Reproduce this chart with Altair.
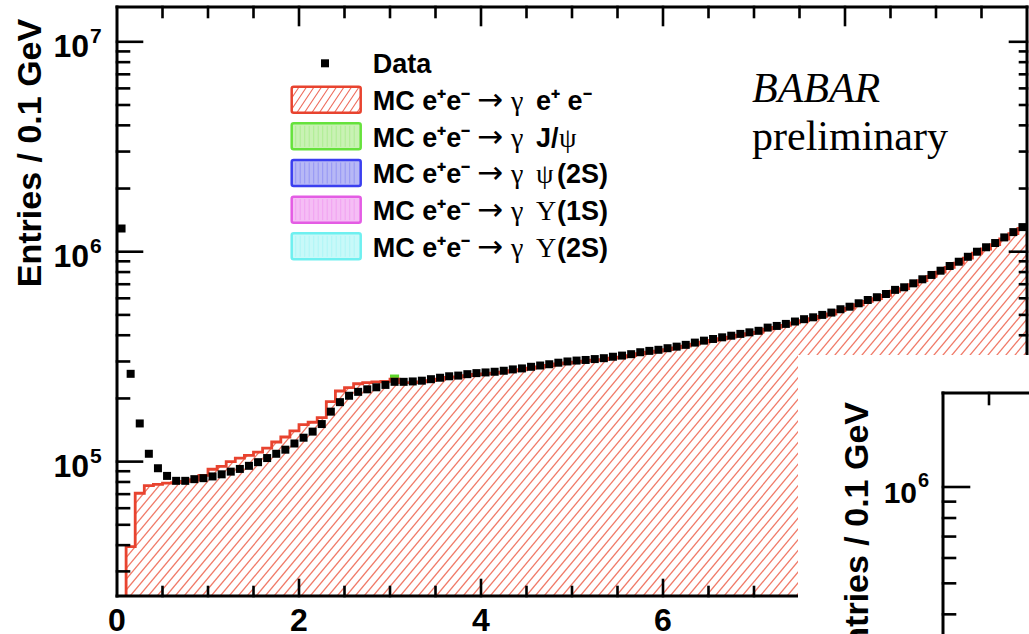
import altair as alt
import numpy as np
import pandas as pd

# ---------------- data ----------------
bin_left = [round(0.1 * i, 1) for i in range(100)]   # 0.1 GeV bins, 0..10 GeV

data_counts = [
    1.29e6, 2.62e5, 1.52e5, 1.09e5, 9.3e4, 8.55e4, 8.1e4, 8.1e4, 8.25e4, 8.34e4,
    8.5e4, 8.7e4, 8.96e4, 9.23e4, 9.55e4, 9.94e4, 1.04e5, 1.09e5, 1.14e5, 1.22e5,
    1.30e5, 1.39e5, 1.51e5, 1.73e5, 1.92e5, 2.06e5, 2.15e5, 2.21e5, 2.26e5, 2.32e5,
    2.40e5, 2.40e5, 2.41e5, 2.43e5, 2.47e5, 2.51e5, 2.55e5, 2.57e5, 2.61e5, 2.64e5,
    2.66e5, 2.68e5, 2.71e5, 2.75e5, 2.78e5, 2.83e5, 2.87e5, 2.91e5, 2.96e5, 3.00e5,
    3.03e5, 3.05e5, 3.08e5, 3.11e5, 3.16e5, 3.20e5, 3.25e5, 3.32e5, 3.37e5, 3.41e5,
    3.47e5, 3.53e5, 3.60e5, 3.69e5, 3.77e5, 3.84e5, 3.91e5, 3.98e5, 4.06e5, 4.13e5,
    4.20e5, 4.35e5, 4.43e5, 4.53e5, 4.65e5, 4.77e5, 4.87e5, 5.00e5, 5.13e5, 5.32e5,
    5.47e5, 5.68e5, 5.89e5, 6.07e5, 6.29e5, 6.58e5, 6.77e5, 7.07e5, 7.39e5, 7.75e5,
    8.12e5, 8.55e5, 8.96e5, 9.46e5, 1.00e6, 1.05e6, 1.10e6, 1.17e6, 1.24e6, 1.31e6,
]

mc_counts = [
    1.0e4, 3.94e4, 7.07e4, 7.69e4, 7.80e4, 7.90e4, 7.95e4, 8.05e4, 8.20e4, 8.60e4,
    9.20e4, 9.50e4, 1.00e5, 1.04e5, 1.07e5, 1.11e5, 1.16e5, 1.24e5, 1.31e5, 1.40e5,
    1.50e5, 1.54e5, 1.62e5, 1.93e5, 2.17e5, 2.25e5, 2.35e5, 2.38e5, 2.40e5, 2.41e5,
    2.47e5, 2.38e5, 2.38e5, 2.40e5, 2.43e5, 2.47e5, 2.52e5, 2.53e5, 2.57e5, 2.60e5,
    2.62e5, 2.64e5, 2.67e5, 2.71e5, 2.74e5, 2.79e5, 2.83e5, 2.87e5, 2.92e5, 2.95e5,
    2.98e5, 3.01e5, 3.04e5, 3.06e5, 3.11e5, 3.15e5, 3.20e5, 3.27e5, 3.32e5, 3.36e5,
    3.42e5, 3.48e5, 3.55e5, 3.63e5, 3.71e5, 3.78e5, 3.85e5, 3.92e5, 4.00e5, 4.07e5,
    4.14e5, 4.28e5, 4.36e5, 4.46e5, 4.58e5, 4.70e5, 4.80e5, 4.92e5, 5.05e5, 5.24e5,
    5.39e5, 5.59e5, 5.80e5, 5.98e5, 6.20e5, 6.48e5, 6.67e5, 6.96e5, 7.28e5, 7.63e5,
    8.00e5, 8.42e5, 8.83e5, 9.32e5, 9.85e5, 1.03e6, 1.08e6, 1.15e6, 1.22e6, 1.29e6,
]

jpsi_bin = [3.0, 3.1]
jpsi_top = 2.60e5

y_major = [1e5, 1e6, 1e7]
y_major_exp = ["5", "6", "7"]
x_label_values = [0, 2, 4, 6, 8]
y_title = "Entries / 0.1 GeV"

legend_names = ["MC e⁺e⁻ → γ e⁺ e⁻", "MC e⁺e⁻ → γ J/ψ", "MC e⁺e⁻ → γ ψ(2S)",
                "MC e⁺e⁻ → γ Υ(1S)", "MC e⁺e⁻ → γ Υ(2S)"]
legend_stroke = ["#e8432f", "#66e23c", "#3b3ff0", "#e45ce4", "#6ef0f0"]
legend_fill = ["white", "#c9f2b4", "#b7b8f6", "#f5bdf5", "#c8f9f9"]

# ---------------- layout ----------------
PLOT_W, PLOT_H = 910, 589
LEFT, TOP = 117, 7
RIGHT, BOTTOM = LEFT + PLOT_W, TOP + PLOT_H
X_DOMAIN = [0.0, 10.0]
Y_DOMAIN = [2.29e4, 1.465e7]
L0, L1 = np.log10(Y_DOMAIN[0]), np.log10(Y_DOMAIN[1])

SANS = "Liberation Sans"
SERIF = "Liberation Serif"
RED = "#e8432f"
HATCH = "#f07a68"


def px_to_x(px):
    return float(X_DOMAIN[0] + (px - LEFT) / PLOT_W * (X_DOMAIN[1] - X_DOMAIN[0]))


def py_to_y(py):
    return float(10 ** (L1 - (py - TOP) / PLOT_H * (L1 - L0)))


def x_to_px(x):
    return LEFT + (x - X_DOMAIN[0]) / (X_DOMAIN[1] - X_DOMAIN[0]) * PLOT_W


def y_to_py(v):
    return TOP + (L1 - np.log10(v)) / (L1 - L0) * PLOT_H


xs = alt.Scale(domain=X_DOMAIN, nice=False, zero=False)
ys = alt.Scale(type="log", domain=Y_DOMAIN, nice=False)


def XY(x="x", y="y", x2=None, y2=None):
    e = dict(x=alt.X(f"{x}:Q", scale=xs, axis=None),
             y=alt.Y(f"{y}:Q", scale=ys, axis=None))
    if x2:
        e["x2"] = alt.X2(f"{x2}:Q")
    if y2:
        e["y2"] = alt.Y2(f"{y2}:Q")
    return e


def seg(rows, px0, py0, px1, py1, w):
    rows.append(dict(x=px_to_x(px0), y=py_to_y(py0), x2=px_to_x(px1), y2=py_to_y(py1), w=w))


# ---------------- histogram frames ----------------
step_df = pd.DataFrame({
    "x": bin_left + [X_DOMAIN[1]],
    "mc": mc_counts + [mc_counts[-1]],
})
step_df["top"] = Y_DOMAIN[1] * 2
pts_df = pd.DataFrame({"x": [b + 0.05 for b in bin_left], "y": data_counts})

# hatch lines (///) across the plot; the part above the MC histogram is covered in white
SLOPE, DX = 1.2, 9.0
run = PLOT_H / SLOPE
hatch_rows = []
xb = LEFT - run
while xb < RIGHT + 2:
    hatch_rows.append(dict(x=px_to_x(xb), y=Y_DOMAIN[0], x2=px_to_x(xb + run), y2=Y_DOMAIN[1]))
    xb += DX
hatch_df = pd.DataFrame(hatch_rows)

layers = []
layers.append(alt.Chart(hatch_df).mark_rule(color=HATCH, strokeWidth=1.3, clip=True)
              .encode(**XY("x", "y", "x2", "y2")))
layers.append(alt.Chart(step_df).mark_area(interpolate="step-after", color="white", opacity=1, clip=True)
              .encode(**XY("x", "mc", None, "top")))
jp_df = pd.DataFrame({"x": [jpsi_bin[0]], "x2": [jpsi_bin[1]],
                      "y": [mc_counts[30]], "y2": [jpsi_top]})
layers.append(alt.Chart(jp_df).mark_rect(color="#5cd62a").encode(**XY("x", "y", "x2", "y2")))
layers.append(alt.Chart(step_df).mark_line(interpolate="step-after", color=RED, strokeWidth=2.8, clip=True)
              .encode(**XY("x", "mc")))
layers.append(alt.Chart(pts_df).mark_square(size=64, color="black", opacity=1)
              .encode(**XY("x", "y")))

# ---------------- frame and inward ticks ----------------
fr = []
seg(fr, LEFT, TOP, LEFT, BOTTOM, 3)
seg(fr, RIGHT, TOP, RIGHT, BOTTOM, 3)
seg(fr, LEFT, TOP, RIGHT, TOP, 3)
seg(fr, LEFT, BOTTOM, RIGHT, BOTTOM, 3)
for d in [4, 5, 6, 7]:
    for m in range(1, 10):
        v = m * 10 ** d
        if not (Y_DOMAIN[0] < v < Y_DOMAIN[1]):
            continue
        py = y_to_py(v)
        if m == 1:
            seg(fr, LEFT, py, LEFT + 25, py, 2.6)
            seg(fr, RIGHT - 17, py, RIGHT, py, 2.6)
        else:
            seg(fr, LEFT, py, LEFT + 12, py, 2.6)
            seg(fr, RIGHT - 7, py, RIGHT, py, 2.6)
for k in range(1, 20):
    px = x_to_px(0.5 * k)
    major = (k % 4 == 0)
    seg(fr, px, BOTTOM, px, BOTTOM - (16 if major else 9), 2.6)
    seg(fr, px, TOP, px, TOP + (18 if major else 10), 2.6)
fr_df = pd.DataFrame(fr)
layers.append(alt.Chart(fr_df).mark_rule(color="black", strokeCap="square")
              .encode(**XY("x", "y", "x2", "y2"),
                      strokeWidth=alt.StrokeWidth("w:Q", scale=None, legend=None)))

# ---------------- axis labels ----------------
yl_df = pd.DataFrame({"v": y_major, "t": ["10"] * 3, "s": y_major_exp})
layers.append(alt.Chart(yl_df).mark_text(font=SANS, fontWeight="bold", fontSize=32, align="right",
                                          baseline="alphabetic", dy=15, color="black")
              .encode(x=alt.value(89 - LEFT), y=alt.Y("v:Q", scale=ys, axis=None), text="t:N"))
layers.append(alt.Chart(yl_df).mark_text(font=SANS, fontWeight="bold", fontSize=21, align="left",
                                          baseline="alphabetic", dy=1, color="black")
              .encode(x=alt.value(90 - LEFT), y=alt.Y("v:Q", scale=ys, axis=None), text="s:N"))
xl_df = pd.DataFrame({"x": x_label_values, "t": [str(v) for v in x_label_values]})
layers.append(alt.Chart(xl_df).mark_text(font=SANS, fontWeight="bold", fontSize=32, align="center",
                                          baseline="alphabetic", color="black")
              .encode(x=alt.X("x:Q", scale=xs, axis=None), y=alt.value(631 - TOP), text="t:N"))
yt_df = pd.DataFrame({"t": [y_title]})
layers.append(alt.Chart(yt_df).mark_text(font=SANS, fontWeight="bold", fontSize=34, angle=270,
                                          align="center", baseline="alphabetic", color="black")
              .encode(x=alt.value(41 - LEFT), y=alt.value(153 - TOP), text="t:N"))

# ---------------- legend ----------------
SW_X0, SW_X1 = 291.7, 360.7
ROW0_TOP, ROW_STEP, SW_H = 86.7, 36.65, 26
TXT_X = 372.7
sw_rows, sw_hatch = [], []
for i in range(5):
    t = ROW0_TOP + i * ROW_STEP
    sw_rows.append(dict(x=px_to_x(SW_X0), x2=px_to_x(SW_X1), y=py_to_y(t), y2=py_to_y(t + SW_H),
                        f=legend_fill[i], s=legend_stroke[i]))
# hatch inside the red swatch
t0, t1 = ROW0_TOP, ROW0_TOP + SW_H
xb = SW_X0 - SW_H / 1.5
while xb < SW_X1:
    s = 1.5
    ya = max(t0, t1 - s * (SW_X1 - xb))
    yb = min(t1, t1 - s * (SW_X0 - xb))
    if ya < yb:
        xa_ = xb + (t1 - ya) / s
        xb_ = xb + (t1 - yb) / s
        sw_hatch.append(dict(x=px_to_x(xb_), y=py_to_y(yb), x2=px_to_x(xa_), y2=py_to_y(ya)))
    xb += 7.5
sw_df = pd.DataFrame(sw_rows)
layers.append(alt.Chart(sw_df).mark_rect(strokeWidth=2.5, cornerRadius=2)
              .encode(**XY("x", "y", "x2", "y2"),
                      fill=alt.Fill("f:N", scale=None, legend=None),
                      stroke=alt.Stroke("s:N", scale=None, legend=None)))
# faint vertical texture in the coloured swatches
tex = []
for i in range(1, 5):
    t = ROW0_TOP + i * ROW_STEP
    px = SW_X0 + 4
    while px < SW_X1 - 2:
        tex.append(dict(x=px_to_x(px), y=py_to_y(t + 2.5), x2=px_to_x(px), y2=py_to_y(t + SW_H - 2.5),
                        c=legend_stroke[i]))
        px += 4.5
layers.append(alt.Chart(pd.DataFrame(tex)).mark_rule(strokeWidth=0.8, opacity=0.35)
              .encode(**XY("x", "y", "x2", "y2"), color=alt.Color("c:N", scale=None, legend=None)))
layers.append(alt.Chart(pd.DataFrame(sw_hatch)).mark_rule(color=RED, strokeWidth=1.1, opacity=0.8)
              .encode(**XY("x", "y", "x2", "y2")))
layers.append(alt.Chart(pd.DataFrame({"x": [px_to_x(325)], "y": [py_to_y(63.3)]}))
              .mark_square(size=64, color="black", opacity=1).encode(**XY("x", "y")))

base_lines = [73] + [ROW0_TOP + i * ROW_STEP + 23.3 for i in range(5)]
sans_pieces = [("Data", TXT_X, base_lines[0])]
serif_pieces = []
arrow_pieces = []
suffix_sans = ["e⁺ e⁻", "J/", "(2S)", "(1S)", "(2S)"]
suffix_sans_x = [536, 536, 557, 557, 557]
suffix_serif = ["", "ψ", "ψ", "Υ", "Υ"]
suffix_serif_x = [0, 559, 536, 536, 536]
for i in range(5):
    b = base_lines[i + 1]
    sans_pieces.append(("MC e⁺e⁻", TXT_X, b))
    arrow_pieces.append(("→", 477, b))
    serif_pieces.append(("γ", 511, b))
    sans_pieces.append((suffix_sans[i], suffix_sans_x[i], b))
    if suffix_serif[i]:
        serif_pieces.append((suffix_serif[i], suffix_serif_x[i], b))
sp_df = pd.DataFrame([dict(t=t, x=px_to_x(x), y=py_to_y(y)) for t, x, y in sans_pieces])
se_df = pd.DataFrame([dict(t=t, x=px_to_x(x), y=py_to_y(y)) for t, x, y in serif_pieces])
ar_df = pd.DataFrame([dict(t=t, x=px_to_x(x), y=py_to_y(y)) for t, x, y in arrow_pieces])
layers.append(alt.Chart(sp_df).mark_text(font=SANS, fontWeight="bold", fontSize=27, align="left",
                                          baseline="alphabetic", color="black")
              .encode(**XY("x", "y"), text="t:N"))
layers.append(alt.Chart(se_df).mark_text(font=SERIF, fontSize=28, align="left",
                                          baseline="alphabetic", color="black")
              .encode(**XY("x", "y"), text="t:N"))
layers.append(alt.Chart(ar_df).mark_text(font="DejaVu Sans", fontSize=31, align="left",
                                          baseline="alphabetic", color="black")
              .encode(**XY("x", "y"), text="t:N"))

# BABAR preliminary
bb_df = pd.DataFrame({"t": ["BABAR"], "x": [px_to_x(752)], "y": [py_to_y(102)]})
pr_df = pd.DataFrame({"t": ["preliminary"], "x": [px_to_x(752)], "y": [py_to_y(150)]})
layers.append(alt.Chart(bb_df).mark_text(font=SERIF, fontStyle="italic", fontSize=42, align="left",
                                          baseline="alphabetic", color="black")
              .encode(**XY("x", "y"), text="t:N"))
layers.append(alt.Chart(pr_df).mark_text(font=SERIF, fontSize=42, align="left",
                                          baseline="alphabetic", color="black")
              .encode(**XY("x", "y"), text="t:N"))

# ---------------- inset (partly visible, lower right) ----------------
in_df = pd.DataFrame({"x": [px_to_x(798)], "x2": [px_to_x(1040)],
                      "y": [py_to_y(355)], "y2": [py_to_y(650)]})
layers.append(alt.Chart(in_df).mark_rect(color="white", opacity=1).encode(**XY("x", "y", "x2", "y2")))
ins = []
IN_L, IN_T, IN_Y6, IN_DEC = 943, 393, 487, 320
seg(ins, IN_L, IN_T, IN_L, 640, 3)
seg(ins, IN_L, IN_T, 1040, IN_T, 3)
seg(ins, 989, IN_T, 989, IN_T + 11, 2.6)
seg(ins, IN_L, IN_Y6, IN_L + 26, IN_Y6, 2.6)
for m in range(9, 2, -1):
    py = IN_Y6 + IN_DEC * (1 - np.log10(m))
    if py < 640:
        seg(ins, IN_L, py, IN_L + 12, py, 2.6)
layers.append(alt.Chart(pd.DataFrame(ins)).mark_rule(color="black", strokeCap="square")
              .encode(**XY("x", "y", "x2", "y2"),
                      strokeWidth=alt.StrokeWidth("w:Q", scale=None, legend=None)))
it_df = pd.DataFrame({"t": ["10"], "s": ["6"], "x": [px_to_x(917)], "y": [py_to_y(503)],
                      "xs": [px_to_x(918)], "ys": [py_to_y(487)]})
layers.append(alt.Chart(it_df).mark_text(font=SANS, fontWeight="bold", fontSize=30, align="right",
                                          baseline="alphabetic", color="black")
              .encode(**XY("x", "y"), text="t:N"))
layers.append(alt.Chart(it_df).mark_text(font=SANS, fontWeight="bold", fontSize=20, align="left",
                                          baseline="alphabetic", color="black")
              .encode(**XY("xs", "ys"), text="s:N"))
itl_df = pd.DataFrame({"t": [y_title], "x": [px_to_x(868)], "y": [py_to_y(402)]})
layers.append(alt.Chart(itl_df).mark_text(font=SANS, fontWeight="bold", fontSize=34, angle=270,
                                           align="right", baseline="alphabetic", color="black")
              .encode(**XY("x", "y"), text="t:N"))

chart = alt.layer(*layers).properties(
    width=PLOT_W, height=PLOT_H,
    autosize=alt.AutoSizeParams(type="none"),
    padding={"left": LEFT, "top": TOP, "right": 1029 - RIGHT, "bottom": 634 - BOTTOM},
    background="white",
).configure_view(stroke=None)

chart.save("out.html", embed_options={"renderer": "svg", "actions": False})
